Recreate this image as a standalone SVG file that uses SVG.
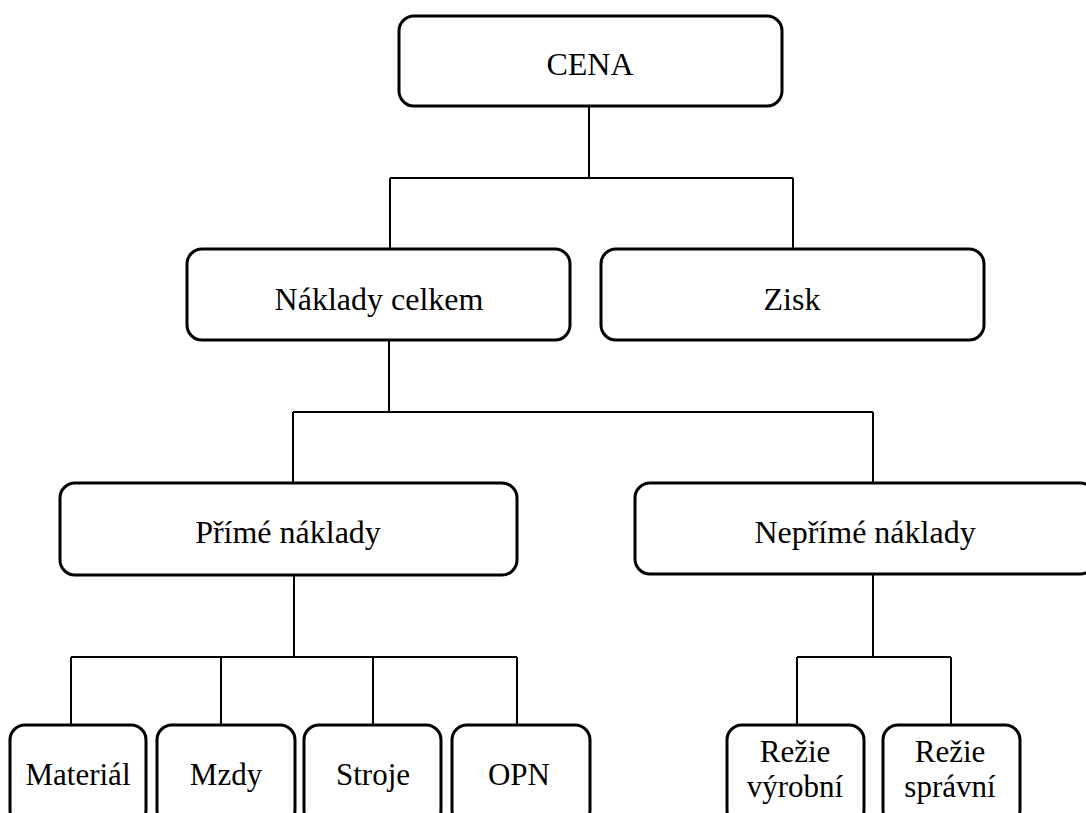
<svg xmlns="http://www.w3.org/2000/svg" width="1086" height="813" viewBox="0 0 1086 813">
<style>
.box{fill:#fff;stroke:#000;stroke-width:3}
.ln{fill:none;stroke:#000;stroke-width:2}
text{font-family:'Liberation Serif','Times New Roman',serif;font-size:32px;fill:#000;text-anchor:middle}
.sm{font-size:31px}
</style>
<rect width="1086" height="813" fill="#fff"/>
<g id="connectors">
<path class="ln" d="M589 106V178M390 178H793M390 178V249M793 178V249"/>
<path class="ln" d="M389 340V412M293 412H873M293 412V483M873 412V483"/>
<path class="ln" d="M294 575V657M71 657H517M71 657V725M221 657V725M373 657V725M517 657V725"/>
<path class="ln" d="M873 574V657M797 657H951M797 657V725M951 657V725"/>
</g>
<g id="cena"><rect class="box" x="399" y="16" width="383" height="90" rx="15"/><text x="590" y="75">CENA</text></g>
<g id="naklady-celkem"><rect class="box" x="187" y="249" width="383" height="91" rx="15"/><text x="379" y="310">Náklady celkem</text></g>
<g id="zisk"><rect class="box" x="601" y="249" width="383" height="91" rx="15"/><text x="792" y="310">Zisk</text></g>
<g id="prime-naklady"><rect class="box" x="60" y="483" width="457" height="92" rx="15"/><text x="288" y="543">Přímé náklady</text></g>
<g id="neprime-naklady"><rect class="box" x="635" y="483" width="460" height="91" rx="15"/><text x="865" y="543">Nepřímé náklady</text></g>
<g id="material"><rect class="box" x="10" y="725" width="136" height="100" rx="15"/><text class="sm" x="78" y="785">Materiál</text></g>
<g id="mzdy"><rect class="box" x="157" y="725" width="138" height="100" rx="15"/><text class="sm" x="226" y="785">Mzdy</text></g>
<g id="stroje"><rect class="box" x="304" y="725" width="137" height="100" rx="15"/><text class="sm" x="373" y="785">Stroje</text></g>
<g id="opn"><rect class="box" x="452" y="725" width="138" height="100" rx="15"/><text class="sm" x="519" y="785">OPN</text></g>
<g id="rezie-vyrobni"><rect class="box" x="727" y="725" width="137" height="100" rx="15"/><text class="sm" x="795" y="762">Režie</text><text class="sm" x="795" y="797">výrobní</text></g>
<g id="rezie-spravni"><rect class="box" x="883" y="725" width="137" height="100" rx="15"/><text class="sm" x="950" y="762">Režie</text><text class="sm" x="950" y="797">správní</text></g>
</svg>
